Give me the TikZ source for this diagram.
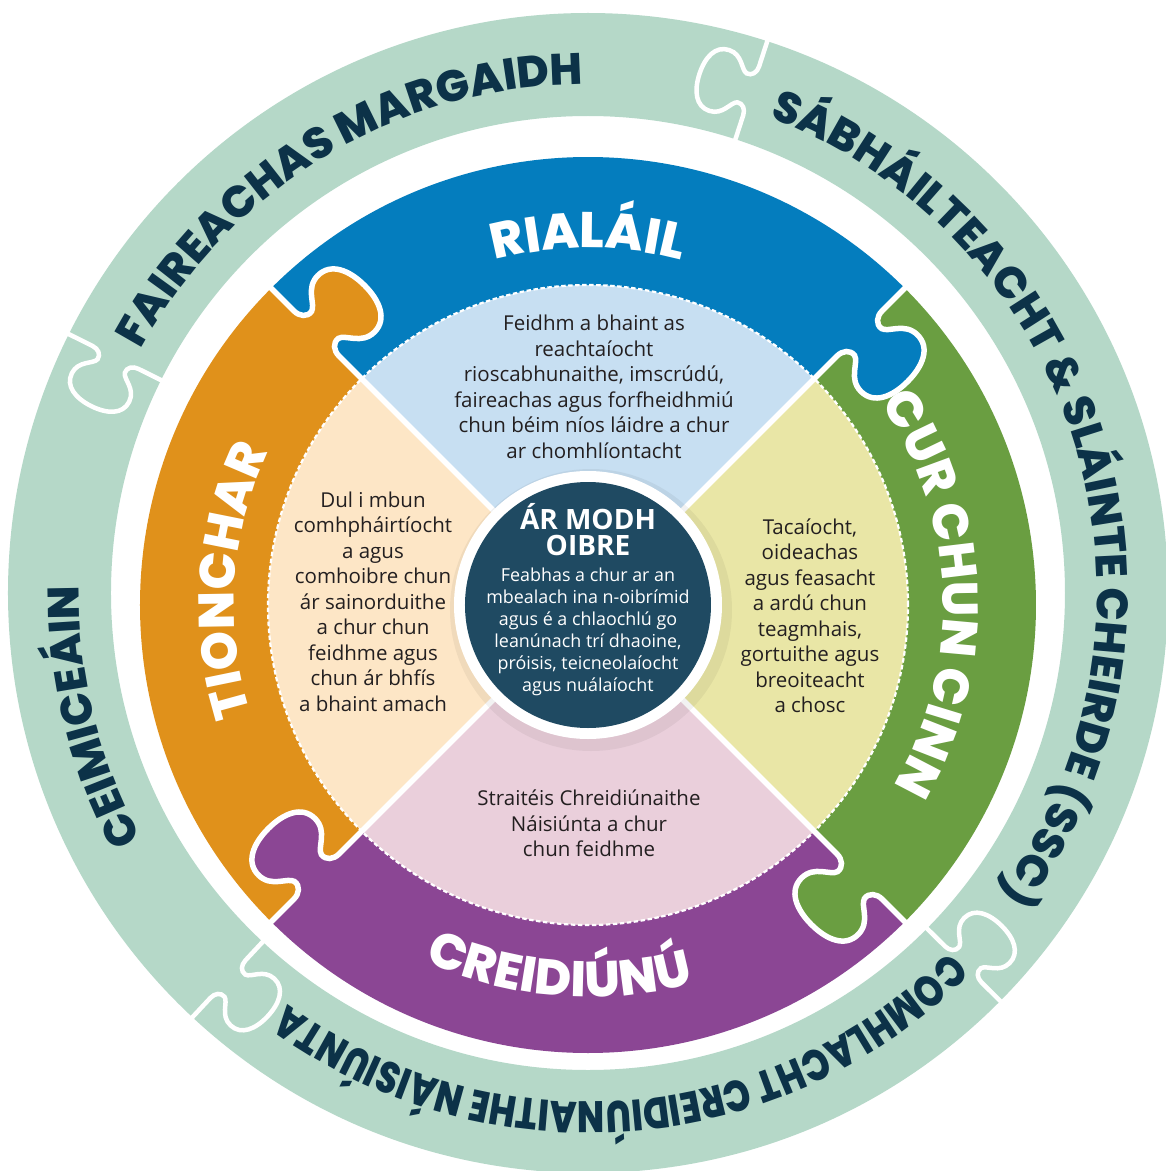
\documentclass[tikz,border=0pt]{standalone}
\usepackage{fontspec}
\setmainfont{Open Sans}
\newfontfamily\headfont{Poppins}[UprightFont={* ExtraBold}, BoldFont={* ExtraBold}]
\newfontfamily\headfontnarrow{Poppins}[UprightFont={* ExtraBold}, BoldFont={* ExtraBold}, FakeStretch=0.81]
\usetikzlibrary{decorations.text}
\definecolor{ringgreen}{HTML}{B5D8C8}
\definecolor{navy}{HTML}{0C3248}
\definecolor{bandblue}{HTML}{047DBE}
\definecolor{lightblue}{HTML}{C7DFF2}
\definecolor{bandgreen}{HTML}{6A9E41}
\definecolor{lightyellow}{HTML}{E9E6A6}
\definecolor{bandpurple}{HTML}{8B4694}
\definecolor{lightpink}{HTML}{EACFDB}
\definecolor{bandorange}{HTML}{E0911B}
\definecolor{peach}{HTML}{FDE6C6}
\definecolor{centerblue}{HTML}{1F4A62}
\definecolor{bodytext}{HTML}{231F20}
\newcommand\ringfnt{\headfont\fontsize{44}{44}\selectfont\color{navy}}
\newcommand\ringfntnarrow{\headfontnarrow\fontsize{44}{44}\selectfont\color{navy}}
\newcommand\bandfnt{\headfont\fontsize{50}{50}\selectfont\color{white}}
\newcommand\tabpath{(32,0) .. controls (24,0) and (18,5) .. (19,12) .. controls (21,20) and (40,24) .. (40,42) .. controls (40,60) and (22,68) .. (0,68) .. controls (-22,68) and (-40,60) .. (-40,42) .. controls (-40,24) and (-21,20) .. (-19,12) .. controls (-18,5) and (-24,0) .. (-32,0)}
\tikzset{
  qtext/.style={font=\fontsize{20.5}{25.5}\selectfont, text=bodytext, align=center, inner sep=0pt},
  ctext/.style={font=\fontsize{17.9}{22}\selectfont, text=white, align=center, inner sep=0pt},
  chead/.style={font=\bfseries\fontsize{28}{25.5}\selectfont, text=white, align=center, inner sep=0pt},
  seam/.style={white, line width=5.5pt},
  ringseam/.style={white, line width=4.5pt},
}
\begin{document}
\begin{tikzpicture}[x=1pt, y=1pt]
\useasboundingbox (-588,-566) rectangle (578,605);
\fill[white] (-588,-566) rectangle (578,605);
\begin{scope}
\clip (-588,-566) rectangle (578,605);
% outer ring
\fill[ringgreen, even odd rule] (0,12) circle[radius=580] (0,12) circle[radius=477];
\foreach \a in {72,153.5,227,315.3} {
  \begin{scope}[shift={(0,12)}, rotate=\a, xshift=528, scale=0.8]
    \draw[ringseam] (73,0) -- \tabpath -- (-73,0);
  \end{scope}
}
% outer ring labels
\path[shift={(0,12)}, decorate, decoration={text along path, text align=center,
  text={|\ringfnt|FAIREACHAS MARGAIDH}}] (171:509) arc[start angle=171, end angle=71, radius=509];
\path[shift={(0,12)}, decorate, decoration={text along path, text align=center,
  text={|\ringfnt|SÁBHÁILTEACHT {\&} SLÁINTE CHEIRDE (SSC)}}] (86.5:509) arc[start angle=86.5, end angle=-53.5, radius=509];
\path[shift={(0,12)}, decorate, decoration={text along path, text align=center,
  text={|\ringfnt|CEIMICEÁIN}}] (234:509) arc[start angle=234, end angle=154, radius=509];
\path[shift={(0,12)}, decorate, decoration={text along path, text align=center,
  text={|\ringfntnarrow|COMHLACHT CREIDIÚNAITHE NÁISIÚNTA}}] (334.5:509) arc[start angle=334.5, end angle=214.5, radius=509];
% light quadrants
\fill[lightblue] (0,0) -- (45:330) arc[start angle=45, end angle=135, radius=330] -- cycle;
\fill[peach] (0,0) -- (135:330) arc[start angle=135, end angle=225, radius=330] -- cycle;
\fill[lightpink] (0,0) -- (225:330) arc[start angle=225, end angle=315, radius=330] -- cycle;
\fill[lightyellow] (0,0) -- (-45:330) arc[start angle=-45, end angle=45, radius=330] -- cycle;
% coloured bands
\fill[bandblue] (45:448) arc[start angle=45, end angle=135, radius=448] -- (135:320) arc[start angle=135, end angle=45, radius=320] -- cycle;
\fill[bandorange] (135:448) arc[start angle=135, end angle=225, radius=448] -- (225:320) arc[start angle=225, end angle=135, radius=320] -- cycle;
\fill[bandpurple] (225:448) arc[start angle=225, end angle=315, radius=448] -- (315:320) arc[start angle=315, end angle=225, radius=320] -- cycle;
\fill[bandgreen] (-45:448) arc[start angle=-45, end angle=45, radius=448] -- (45:320) arc[start angle=45, end angle=-45, radius=320] -- cycle;
% tabs
\foreach \a/\c in {135/bandorange, 45/bandblue, 315/bandgreen, 225/bandpurple} {
  \begin{scope}[rotate=\a, yscale=-1, xshift=384]
    \fill[\c] \tabpath -- (-32,-3) -- (32,-3) -- cycle;
  \end{scope}
}
\draw[white, line width=2.2pt, dash pattern=on 4.5pt off 2.5pt] (0,0) circle[radius=320];
\foreach \a in {135,45,315,225} {
  \begin{scope}[rotate=\a, yscale=-1, xshift=384]
    \draw[seam] (68,0) -- \tabpath -- (-264,0);
  \end{scope}
}
% band labels
\path[decorate, decoration={text along path, text align=center,
  text={|\bandfnt|RIALÁIL}}] (140:357) arc[start angle=140, end angle=40, radius=357];
\path[decorate, decoration={text along path, text align=center,
  text={|\bandfnt|TIONCHAR}}] (226:354) arc[start angle=226, end angle=126, radius=354];
\path[decorate, decoration={text along path, text align=center,
  text={|\bandfnt|CUR CHUN CINN}}] (72:355) arc[start angle=72, end angle=-68, radius=355];
\path[decorate, decoration={text along path, text align=center,
  text={|\bandfnt|CREIDIÚNÚ}}] (205.5:392) arc[start angle=205.5, end angle=325.5, radius=392];
% centre
\fill[black, opacity=0.05] (3,-5) circle[radius=141];
\fill[white] (0,0) circle[radius=134];
\fill[centerblue] (0,0) circle[radius=123];
\node[chead] (head) at (0,75.5) {ÁR MODH\\OIBRE};
\node[ctext] (body) at (0,-27) {Feabhas a chur ar an\\mbealach ina n-oibrímid\\agus é a chlaochlú go\\leanúnach trí dhaoine,\\próisis, teicneolaíocht\\agus nuálaíocht};
% quadrant texts
\node[qtext] (qtop) at (6,218) {Feidhm a bhaint as\\reachtaíocht\\rioscabhunaithe, imscrúdú,\\faireachas agus forfheidhmiú\\chun béim níos láidre a chur\\ar chomhlíontacht};
\node[qtext] (qleft) at (-215,3.5) {Dul i mbun\\comhpháirtíocht\\a agus\\comhoibre chun\\ár sainorduithe\\a chur chun\\feidhme agus\\chun ár bhfís\\a bhaint amach};
\node[qtext] (qright) at (222,-10.5) {Tacaíocht,\\oideachas\\agus feasacht\\a ardú chun\\teagmhais,\\gortuithe agus\\breoiteacht\\a chosc};
\node[qtext] (qbottom) at (1,-218.5) {Straitéis Chreidiúnaithe\\Náisiúnta a chur\\chun feidhme};
\end{scope}
\end{tikzpicture}
\end{document}
